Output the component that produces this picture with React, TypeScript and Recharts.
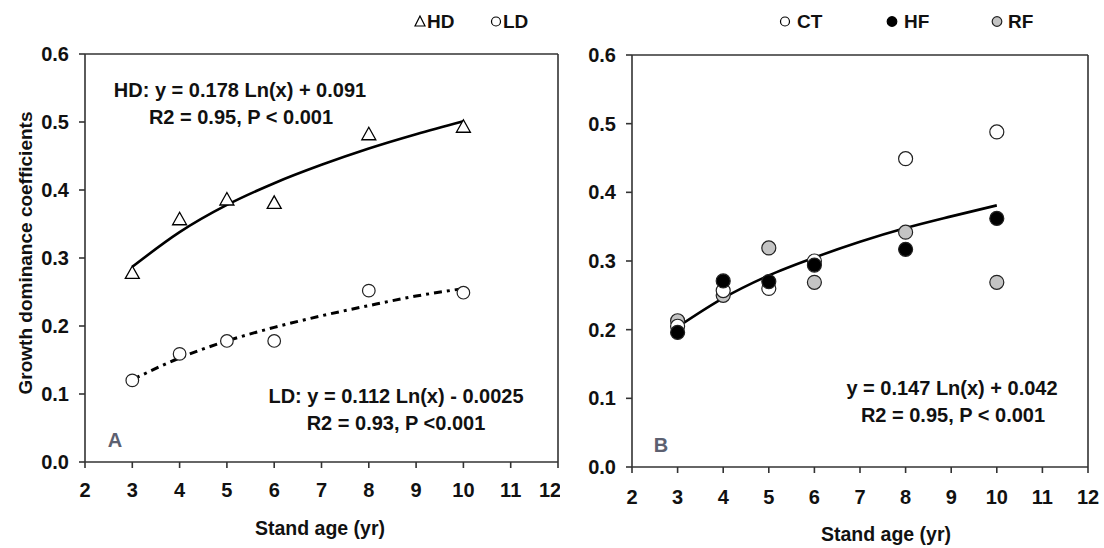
import React from "react";
import { ComposedChart, Scatter, Line, XAxis, YAxis, ReferenceLine } from "recharts";

// stand ages sampled (yr)
const ages = [3, 4, 5, 6, 8, 10];
const fitAges = [3, 4, 5, 6, 7, 8, 9, 10];

// panel A
const hdValues = [0.278, 0.357, 0.386, 0.381, 0.482, 0.493];
const ldValues = [0.12, 0.159, 0.178, 0.178, 0.252, 0.249];
const hdFit = [0.287, 0.338, 0.378, 0.41, 0.437, 0.461, 0.482, 0.501];
const ldFit = [0.121, 0.153, 0.178, 0.198, 0.215, 0.23, 0.244, 0.255];

// panel B
const ctValues = [0.205, 0.257, 0.26, 0.3, 0.449, 0.488];
const hfValues = [0.196, 0.271, 0.27, 0.294, 0.317, 0.362];
const rfValues = [0.213, 0.25, 0.319, 0.269, 0.342, 0.269];
const bFit = [0.204, 0.246, 0.279, 0.305, 0.328, 0.348, 0.365, 0.381];

const xTicks = [2, 3, 4, 5, 6, 7, 8, 9, 10, 11, 12];
const yTicks = [0, 0.1, 0.2, 0.3, 0.4, 0.5, 0.6];

const toPoints = (xs: number[], ys: number[]) => xs.map((x, i) => ({ x, y: ys[i] }));

const FONT = "'Liberation Sans', Arial, sans-serif";
const AXIS = "#333";
const TEXT = "#111";
const GRAY = "#c4c4c4";

const Triangle = (props: any) => {
  const { cx, cy } = props;
  if (cx == null || cy == null) return null;
  return (
    <polygon
      points={`${cx},${cy - 7} ${cx - 7},${cy + 5.5} ${cx + 7},${cy + 5.5}`}
      fill="#fff"
      stroke="#000"
      strokeWidth={1.3}
    />
  );
};

const dot = (fill: string, r: number) => (props: any) => {
  const { cx, cy } = props;
  if (cx == null || cy == null) return null;
  return <circle cx={cx} cy={cy} r={r} fill={fill} stroke="#222" strokeWidth={1.2} />;
};

const tickStyle = { fontSize: 20, fontWeight: 700, fill: TEXT, fontFamily: FONT };
const axisStroke = { stroke: AXIS, strokeWidth: 1.6 };

const PanelA = () => (
  <ComposedChart
    width={560}
    height={548}
    margin={{ top: 54, right: 2, bottom: 46, left: 25 }}
    style={{ position: "absolute", left: 0, top: 0 }}
  >
    <XAxis
      dataKey="x"
      type="number"
      domain={[2, 12]}
      ticks={xTicks}
      allowDataOverflow
      height={40}
      tick={tickStyle}
      tickSize={6}
      tickMargin={15}
      axisLine={axisStroke}
      tickLine={axisStroke}
    />
    <YAxis
      dataKey="y"
      type="number"
      domain={[0, 0.6]}
      ticks={yTicks}
      allowDataOverflow
      width={60}
      tick={tickStyle}
      tickSize={6}
      tickMargin={10}
      tickFormatter={(v: number) => v.toFixed(1)}
      axisLine={axisStroke}
      tickLine={axisStroke}
    />
    <ReferenceLine y={0.6} stroke={AXIS} strokeWidth={1.6} />
    <ReferenceLine x={12} stroke={AXIS} strokeWidth={1.6} />
    <Line
      data={toPoints(fitAges, hdFit)}
      dataKey="y"
      type="monotone"
      stroke="#000"
      strokeWidth={2.6}
      dot={false}
      isAnimationActive={false}
    />
    <Line
      data={toPoints(fitAges, ldFit)}
      dataKey="y"
      type="monotone"
      stroke="#000"
      strokeWidth={3}
      strokeDasharray="8 5 3 5"
      dot={false}
      isAnimationActive={false}
    />
    <Scatter data={toPoints(ages, hdValues)} dataKey="y" shape={Triangle} isAnimationActive={false} />
    <Scatter data={toPoints(ages, ldValues)} dataKey="y" shape={dot("#fff", 6.3)} isAnimationActive={false} />
  </ComposedChart>
);

const PanelB = () => (
  <ComposedChart
    width={544}
    height={548}
    margin={{ top: 55, right: 16, bottom: 41, left: 12 }}
    style={{ position: "absolute", left: 560, top: 0 }}
  >
    <XAxis
      dataKey="x"
      type="number"
      domain={[2, 12]}
      ticks={xTicks}
      allowDataOverflow
      height={40}
      tick={tickStyle}
      tickSize={6}
      tickMargin={17}
      axisLine={axisStroke}
      tickLine={axisStroke}
    />
    <YAxis
      dataKey="y"
      type="number"
      domain={[0, 0.6]}
      ticks={yTicks}
      allowDataOverflow
      width={60}
      tick={tickStyle}
      tickSize={6}
      tickMargin={10}
      tickFormatter={(v: number) => v.toFixed(1)}
      axisLine={axisStroke}
      tickLine={axisStroke}
    />
    <ReferenceLine y={0.6} stroke={AXIS} strokeWidth={1.6} />
    <ReferenceLine x={12} stroke={AXIS} strokeWidth={1.6} />
    <Scatter data={toPoints(ages, rfValues)} dataKey="y" shape={dot(GRAY, 7)} isAnimationActive={false} />
    <Scatter data={toPoints(ages, ctValues)} dataKey="y" shape={dot("#fff", 7)} isAnimationActive={false} />
    <Scatter data={toPoints(ages, hfValues)} dataKey="y" shape={dot("#000", 7)} isAnimationActive={false} />
    <Line
      data={toPoints(fitAges, bFit)}
      dataKey="y"
      type="monotone"
      stroke="#000"
      strokeWidth={2.6}
      dot={false}
      isAnimationActive={false}
    />
  </ComposedChart>
);

// text, legends and panel letters drawn over the two charts
const Overlay = () => {
  const t = { fontFamily: FONT, fontWeight: 700, fill: TEXT } as const;
  return (
    <svg width={1104} height={548} style={{ position: "absolute", left: 0, top: 0, pointerEvents: "none" }}>
      {/* legend A */}
      <polygon points="420,16 415,26 425,26" fill="#fff" stroke="#000" strokeWidth={1.2} />
      <text x={427} y={28} fontSize={19} {...t}>HD</text>
      <circle cx={496} cy={21.5} r={4.5} fill="#fff" stroke="#000" strokeWidth={1.2} />
      <text x={503} y={28} fontSize={19} {...t}>LD</text>

      {/* legend B */}
      <circle cx={785} cy={21.5} r={4.5} fill="#fff" stroke="#000" strokeWidth={1.2} />
      <text x={797} y={28} fontSize={19} {...t}>CT</text>
      <circle cx={892} cy={21.5} r={4.8} fill="#000" stroke="#000" strokeWidth={1.2} />
      <text x={904} y={28} fontSize={19} {...t}>HF</text>
      <circle cx={997} cy={21.5} r={4.8} fill={GRAY} stroke="#222" strokeWidth={1.2} />
      <text x={1008} y={28} fontSize={19} {...t}>RF</text>

      {/* y axis title */}
      <text x={0} y={0} fontSize={19} textAnchor="middle" transform="translate(32,253) rotate(-90)" {...t}>
        Growth dominance coefficients
      </text>

      {/* x axis titles */}
      <text x={320} y={535} fontSize={19.5} textAnchor="middle" {...t}>Stand age (yr)</text>
      <text x={886} y={541} fontSize={19.5} textAnchor="middle" {...t}>Stand age (yr)</text>

      {/* panel A equations */}
      <text x={240} y={97} fontSize={20} textAnchor="middle" {...t}>HD: y = 0.178 Ln(x) + 0.091</text>
      <text x={241} y={124} fontSize={20} textAnchor="middle" {...t}>R2 = 0.95, P &lt; 0.001</text>
      <text x={396} y={403} fontSize={20} textAnchor="middle" {...t}>LD: y = 0.112 Ln(x) - 0.0025</text>
      <text x={396} y={430} fontSize={20} textAnchor="middle" {...t}>R2 = 0.93, P &lt;0.001</text>

      {/* panel B equation */}
      <text x={952} y={395} fontSize={20} textAnchor="middle" {...t}>y = 0.147 Ln(x) + 0.042</text>
      <text x={953} y={422} fontSize={20} textAnchor="middle" {...t}>R2 = 0.95, P &lt; 0.001</text>

      {/* panel letters */}
      <text x={115} y={447} fontSize={20} textAnchor="middle" fontFamily={FONT} fontWeight={700} fill="#5c6070">A</text>
      <text x={661} y={452} fontSize={20} textAnchor="middle" fontFamily={FONT} fontWeight={700} fill="#5c6070">B</text>
    </svg>
  );
};

export default function App() {
  return (
    <div style={{ position: "absolute", left: 0, top: 0, width: 1104, height: 548, background: "#fff" }}>
      <PanelA />
      <PanelB />
      <Overlay />
    </div>
  );
}
